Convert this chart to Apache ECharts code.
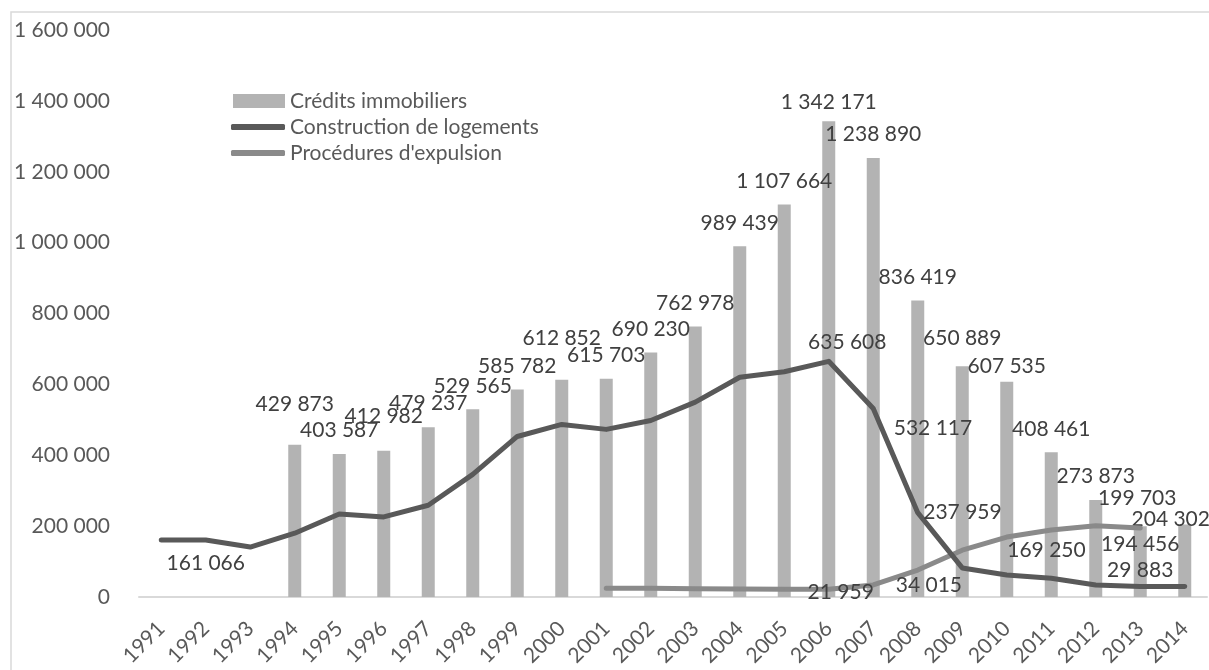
<!DOCTYPE html>
<html>
<head>
<meta charset="utf-8">
<script src="https://cdn.jsdelivr.net/npm/echarts@6/dist/echarts.min.js"></script>
<style>
  html, body { margin: 0; padding: 0; background: #fff; }
  #chart { width: 1209px; height: 670px; }
</style>
</head>
<body>
<div id="chart"></div>
<script>
const years = ['1991', '1992', '1993', '1994', '1995', '1996', '1997', '1998', '1999', '2000', '2001', '2002',
    '2003', '2004', '2005', '2006', '2007', '2008', '2009', '2010', '2011', '2012', '2013', '2014'];

const credits = [null, null, null, 429873, 403587, 412982, 479237, 529565, 585782, 612852, 615703, 690230,
    762978, 989439, 1107664, 1342171, 1238890, 836419, 650889, 607535, 408461, 273873, 199703, 204302];

const construction = [160500, 161066, 141000, 180000, 234000, 226000, 259000, 346000, 453000, 487000, 473000, 498000,
    550000, 620000, 635608, 665000, 532117, 237959, 82000, 62000, 53000, 34000, 29883, 29500];

const expulsions = [null, null, null, null, null, null, null, null, null, null, 25000, 25000,
    23500, 22500, 22000, 21959, 34015, 76000, 132000, 169250, 189000, 201000, 194456, null];

const yTicks = [0, 200000, 400000, 600000, 800000, 1000000, 1200000, 1400000, 1600000];

const names = ['Crédits immobiliers', 'Construction de logements', "Procédures d'expulsion"];

const FONT = 'Lato';
const fmt = v => String(v).replace(/\B(?=(\d{3})+(?!\d))/g, ' ');

// placement of data labels, as in the original chart (hand moved in Excel)
const barLabelTweaks = {
    3: {distance: 30}, 5: {distance: 24}, 9: {distance: 31}, 15: {distance: 9},
    18: {distance: 18}, 19: {distance: 5}, 22: {distance: 17, offset: [-3, 0]},
    23: {distance: -5, offset: [-14, 0]}
};
const constructionLabels = {
    1: {position: 'bottom', distance: 12},
    14: {position: 'top', offset: [63, -14]},
    16: {position: 'right', offset: [15, 20]},
    17: {position: 'right'},
    22: {position: 'top'}
};
const expulsionLabels = {
    15: {position: 'inside', offset: [12, 3]},
    16: {position: 'right', offset: [17, 0]},
    19: {position: 'right', offset: [-5, 13]},
    22: {position: 'bottom'}
};

const labelText = {
    color: '#404040',
    fontFamily: FONT,
    fontSize: 21,
    formatter: p => fmt(p.value)
};

function lineData(values, labels) {
    return values.map((v, i) => {
        if (labels[i]) {
            return {value: v, label: Object.assign({show: true}, labelText, labels[i])};
        }
        return v;
    });
}

const barData = credits.map((v, i) => {
    if (barLabelTweaks[i]) {
        return {value: v, label: Object.assign({}, barLabelTweaks[i])};
    }
    return v;
});

const chart = echarts.init(document.getElementById('chart'));
chart.setOption({
    animation: false,
    backgroundColor: '#fff',
    textStyle: {fontFamily: FONT},
    graphic: [{
        type: 'rect',
        silent: true,
        shape: {x: 11, y: 12, width: 1300, height: 700},
        style: {fill: 'none', stroke: '#d9d9d9', lineWidth: 1.5}
    }],
    legend: [{
        data: [names[0]],
        orient: 'vertical',
        left: 228,
        top: 85,
        icon: 'rect',
        itemWidth: 52,
        itemHeight: 14,
        textStyle: {color: '#595959', fontSize: 21, lineHeight: 22, fontFamily: FONT}
    }, {
        data: [names[1], names[2]],
        orient: 'vertical',
        left: 226,
        top: 111,
        itemGap: 4,
        icon: 'roundRect',
        itemWidth: 54,
        itemHeight: 6,
        textStyle: {color: '#595959', fontSize: 21, lineHeight: 22, fontFamily: FONT}
    }],
    grid: {left: 139, right: 2, top: 30, bottom: 73},
    xAxis: {
        type: 'category',
        data: years,
        axisTick: {show: false},
        axisLine: {lineStyle: {color: '#d9d9d9', width: 2}},
        axisLabel: {rotate: 45, color: '#595959', fontSize: 21, margin: 28, fontFamily: FONT}
    },
    yAxis: {
        type: 'value',
        min: yTicks[0],
        max: yTicks[yTicks.length - 1],
        interval: yTicks[1] - yTicks[0],
        splitLine: {show: false},
        axisLine: {show: false},
        axisTick: {show: false},
        axisLabel: {color: '#595959', fontSize: 21, margin: 29, fontFamily: FONT, formatter: v => fmt(v)}
    },
    series: [{
        name: names[0],
        type: 'bar',
        data: barData,
        barWidth: 13,
        itemStyle: {color: '#b3b3b3'},
        label: Object.assign({show: true, position: 'top', distance: 13}, labelText),
        z: 1
    }, {
        name: names[1],
        type: 'line',
        data: lineData(construction, constructionLabels),
        symbol: 'circle',
        symbolSize: 1,
        showAllSymbol: true,
        lineStyle: {color: '#595959', width: 5, cap: 'round', join: 'round'},
        itemStyle: {color: '#595959'},
        z: 3
    }, {
        name: names[2],
        type: 'line',
        data: lineData(expulsions, expulsionLabels),
        symbol: 'circle',
        symbolSize: 1,
        showAllSymbol: true,
        lineStyle: {color: '#8a8a8a', width: 5, cap: 'round', join: 'round'},
        itemStyle: {color: '#8a8a8a'},
        z: 2
    }]
});
</script>
</body>
</html>
